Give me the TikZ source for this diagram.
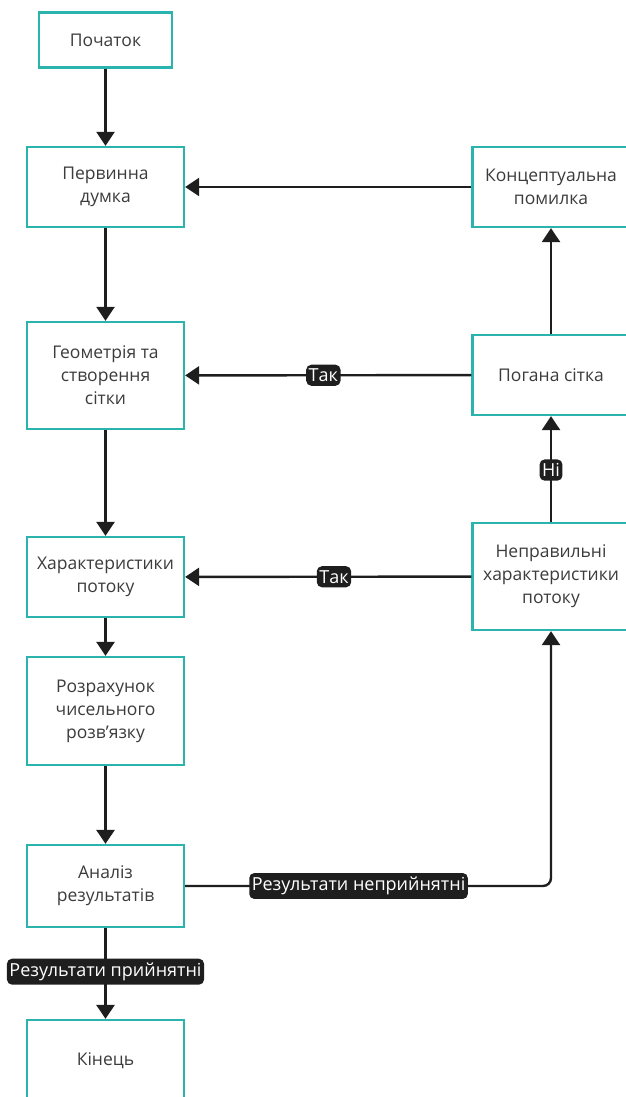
\documentclass[tikz,border=0pt]{standalone}
\usepackage{fontspec}
\setmainfont{Open Sans}
\usetikzlibrary{arrows.meta}
\definecolor{tealb}{HTML}{2BB3AE}
\definecolor{txtc}{HTML}{3C3C3C}
\definecolor{labc}{HTML}{1E1E1E}
\begin{document}
\begin{tikzpicture}[x=1pt,y=-1pt,
  box/.style={draw=tealb, line width=2.2pt, fill=white, minimum width=157pt, align=center, text=txtc, font=\fontsize{17.5}{23}\selectfont, inner sep=0pt},
  conn/.style={line width=2.4pt, draw=labc, -{Triangle[length=14pt,width=18pt]}},
  lbl/.style={fill=labc, text=white, rounded corners=5pt, font=\fontsize{18}{18}\selectfont, inner xsep=2.5pt, inner ysep=4pt}]
\useasboundingbox (0,0) rectangle (625,1097);
\node[box, minimum width=133pt, minimum height=55pt] (start) at (105.5,40) {Початок};
\node[box, minimum height=80pt] (perv) at (105.5,187) {Первинна\\думка};
\node[box, minimum height=107pt] (geom) at (105.5,375.5) {Геометрія та\\створення\\сітки};
\node[box, minimum height=80pt] (char) at (105.5,577) {Характеристики\\потоку};
\node[box, minimum height=108pt] (rozr) at (105.5,711) {Розрахунок\\чисельного\\розв\char39язку};
\node[box, minimum height=82pt] (anal) at (105.5,886) {Аналіз\\результатів};
\node[box, minimum height=82pt] (kin) at (105.5,1061) {Кінець};
\node[box, minimum height=80pt] (konc) at (551,187) {Концептуальна\\помилка};
\node[box, minimum height=80pt] (pog) at (551,375) {Погана сітка};
\node[box, minimum height=107pt] (nepr) at (551,576.5) {Неправильні\\характеристики\\потоку};
\draw[conn] (start) -- (perv);
\draw[conn] (perv) -- (geom);
\draw[conn] (geom) -- (char);
\draw[conn] (char) -- (rozr);
\draw[conn] (rozr) -- (anal);
\draw[conn] (anal) -- node[lbl, pos=0.48] {Результати прийнятні} (kin);
\draw[conn] (konc) -- (perv);
\draw[conn] (pog) -- node[lbl, pos=0.517] {Так} (geom);
\draw[conn] (pog) -- (konc);
\draw[conn] (nepr) -- node[lbl, pos=0.49] {Ні} (pog);
\draw[conn] (nepr) -- node[lbl, pos=0.48] {Так} (char);
\draw[conn, rounded corners=8pt] (anal.east) -| node[lbl, pos=0.237] {Результати неприйнятні} (nepr.south);
\end{tikzpicture}
\end{document}
